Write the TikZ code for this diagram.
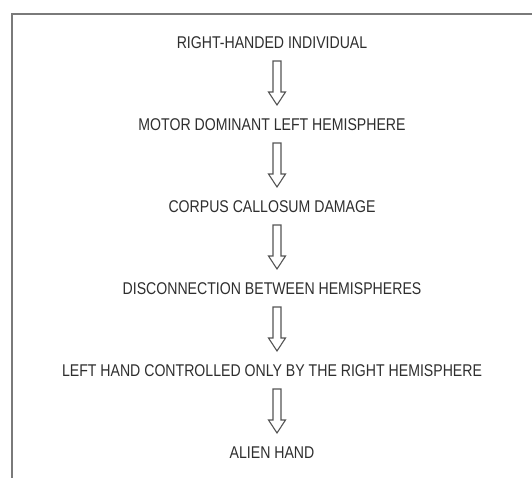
\documentclass[tikz,border=0pt]{standalone}
\usepackage{fontspec}
\setmainfont{Liberation Sans}[FakeStretch=0.83]
\usetikzlibrary{calc}
\definecolor{txt}{HTML}{2E2E2E}
\definecolor{frm}{HTML}{7A7A7A}
\definecolor{arr}{HTML}{555555}
\tikzset{
  label/.style={inner sep=0pt, text=txt, font=\fontsize{17}{19}\selectfont},
  blockarrow/.style={draw=arr, line width=1.1pt, line join=miter, fill=white,
    to path={
      ($(\tikztostart)+(-4,0)$) -- ($(\tikztotarget)+(-4,13)$) --
      ($(\tikztotarget)+(-8.5,13)$) -- (\tikztotarget) --
      ($(\tikztotarget)+(8.5,13)$) -- ($(\tikztotarget)+(4,13)$) --
      ($(\tikztostart)+(4,0)$) -- cycle}},
  framepen/.style={draw=frm, line width=1.6pt}
}
\begin{document}
\begin{tikzpicture}[x=1pt,y=1pt]
\useasboundingbox (0,0) rectangle (532,478);
\coordinate (fa) at (12,0);
\coordinate (fb) at (12,464);
\coordinate (fc) at (532,464);
\draw[framepen] (fa) -- (fb) -- (fc);
\node[label] (t1) at (272,435) {RIGHT-HANDED INDIVIDUAL};
\node[label] (t2) at (272,353) {MOTOR DOMINANT LEFT HEMISPHERE};
\node[label] (t3) at (272,271) {CORPUS CALLOSUM DAMAGE};
\node[label] (t4) at (272,189) {DISCONNECTION BETWEEN HEMISPHERES};
\node[label] (t5) at (272,107) {LEFT HAND CONTROLLED ONLY BY THE RIGHT HEMISPHERE};
\node[label] (t6) at (272,25) {ALIEN HAND};
\foreach \a/\b in {t1/t2,t2/t3,t3/t4,t4/t5,t5/t6}{
  \draw[blockarrow] ($(\a.center)+(5,-18)$) to ($(\b.center)+(5,20)$);
}
\end{tikzpicture}
\end{document}
